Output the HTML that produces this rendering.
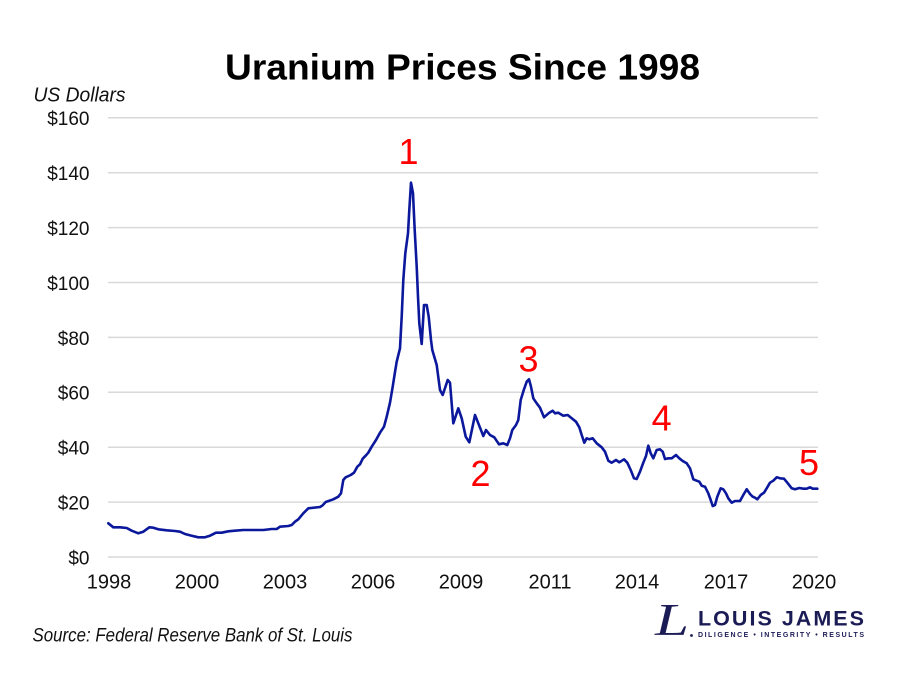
<!DOCTYPE html>
<html>
<head>
<meta charset="utf-8">
<style>
  html, body { margin:0; padding:0; background:#ffffff; }
  svg { display:block; }
  text { font-family: "Liberation Sans", "DejaVu Sans", sans-serif; }
</style>
</head>
<body>
<svg width="899" height="675" viewBox="0 0 899 675" xmlns="http://www.w3.org/2000/svg">
  <rect x="0" y="0" width="899" height="675" fill="#ffffff"/>

  <!-- Title -->
  <text x="225" y="79.5" font-size="36" font-weight="bold" fill="#000" textLength="475" lengthAdjust="spacingAndGlyphs">Uranium Prices Since 1998</text>

  <!-- Y axis title -->
  <text x="33.5" y="101.5" font-size="20" font-style="italic" fill="#111" textLength="92" lengthAdjust="spacingAndGlyphs">US Dollars</text>

  <!-- Gridlines -->
  <g stroke="#d9d9d9" stroke-width="1.5">
    <line x1="108" y1="117.8" x2="818" y2="117.8"/>
    <line x1="108" y1="172.7" x2="818" y2="172.7"/>
    <line x1="108" y1="227.6" x2="818" y2="227.6"/>
    <line x1="108" y1="282.5" x2="818" y2="282.5"/>
    <line x1="108" y1="337.4" x2="818" y2="337.4"/>
    <line x1="108" y1="392.3" x2="818" y2="392.3"/>
    <line x1="108" y1="447.2" x2="818" y2="447.2"/>
    <line x1="108" y1="502.1" x2="818" y2="502.1"/>
    <line x1="108" y1="557" x2="818" y2="557"/>
  </g>

  <!-- Y tick labels -->
  <g font-size="19" fill="#111" text-anchor="end">
    <text x="89.5" y="125">$160</text>
    <text x="89.5" y="180">$140</text>
    <text x="89.5" y="235">$120</text>
    <text x="89.5" y="290">$100</text>
    <text x="89.5" y="344.8">$80</text>
    <text x="89.5" y="399.7">$60</text>
    <text x="89.5" y="454.6">$40</text>
    <text x="89.5" y="509.5">$20</text>
    <text x="89.5" y="564.4">$0</text>
  </g>

  <!-- X tick labels -->
  <g font-size="20" fill="#111" text-anchor="middle">
    <text x="109" y="588.5">1998</text>
    <text x="197" y="588.5">2000</text>
    <text x="285" y="588.5">2003</text>
    <text x="373" y="588.5">2006</text>
    <text x="461" y="588.5">2009</text>
    <text x="550" y="588.5">2011</text>
    <text x="637" y="588.5">2014</text>
    <text x="726" y="588.5">2017</text>
    <text x="814" y="588.5">2020</text>
  </g>

  <!-- Price line -->
  <polyline fill="none" stroke="#0b189c" stroke-width="2.6" stroke-linejoin="round" stroke-linecap="round"
    points="108.3,523.3 113.3,527.3 120,527.3 126.7,528 131.7,530.7 138.3,533.3 143.3,531.7 149.3,527.3 153.3,527.7 158.3,529.3 166.7,530.3 175,531 180,531.7 185,534 191.7,535.7 198.3,537.3 205,537.3 210,535.7 216,532.7 221.7,532.7 228.3,531.3 235,530.7 243.3,530 251.7,530 263.3,530 271.7,529 276.7,529 280,526.7 288.3,526 291.7,525 295,521.7 298.3,519.3 303.3,513.3 308.3,508.3 320,507 322.7,505.3 325.7,502 333.3,499.3 338.3,496.7 341,493.3 343.3,480 345.7,477.3 350.7,475 354,472.7 357.3,466.7 360,464.3 362.7,458.7 366,455.3 368.3,452.7 371.7,446.7 376,440 380,432.7 384,426.7 386.7,416.7 390,402.7 392.7,386.7 395,372 396.7,361.7 400,348.3 401.7,316.7 403.3,280 405.3,253.3 408,233.3 409.3,210 411,182.7 413,193.3 414.7,230 416.7,266.7 418,296.7 419.3,323.3 421.7,344 424,305 426.7,305 428.7,316.7 431,340 432.3,350 436.7,365 440,390 442.7,395 447.7,380 450,382.7 453.3,423.3 458.3,408.3 461.7,418.3 465.7,436.7 469.3,442.3 475,415 478.3,423.3 483.3,436 486,430 490,435 494.3,437.3 499,444.3 503.3,443.3 507.3,445 510,438.3 512.3,430 516,425 518.3,420 520.7,400 524,389.3 526.7,381.7 529,379.3 531,386.7 533.3,398.3 536.7,403.3 540,407.7 544,417.3 549.3,412.7 552.7,410.7 555,413.3 558.3,412.7 563.3,415.7 567.7,415 571.7,418.3 576,421.7 579.3,427.3 581.7,435 584.3,442.7 586.7,438.3 589.3,439.3 592.7,438.3 596.7,443.3 601.7,447.3 605,451.7 608.3,460.7 611.7,462.7 616,460 619.3,462.3 624,459.3 627.3,462.7 630.7,470 634,478.3 636.7,479 640,471.7 643.3,462.7 646,456 648.3,445.7 650.7,453.3 653.3,458.3 656.7,450 660,449.3 662.7,451.7 665,459 668.3,458.3 671.7,458.3 676,455 679.3,458.3 682.7,461 686.7,463.3 690,468.3 693.3,479.3 696.7,480.7 699.3,481.7 701.7,485.7 705,486.7 708.3,493.3 710.7,500 712.7,506 715,505 717.3,496.7 720.7,488.3 723.3,489.3 726,493.3 728.3,498.3 731.7,502.7 735,501 740,501 743.3,495 746.7,489.3 750,494 752.7,496.7 755,497.7 757.3,499.3 760.7,495 764,492.7 766.7,488.3 770,482.7 773.3,480.7 776.7,477.3 780,478.3 784,478.7 787.3,482.7 791.7,488.3 795,489.3 799.3,488 803.3,488.7 806.7,488.7 810,487.3 812.7,488.7 817.3,488.7"/>

  <!-- Red annotations -->
  <g font-size="36" fill="#ff0000" text-anchor="middle">
    <text x="408.5" y="164">1</text>
    <text x="480.5" y="486">2</text>
    <text x="528.5" y="371.7">3</text>
    <text x="661.7" y="430.7">4</text>
    <text x="809" y="475">5</text>
  </g>

  <!-- Source -->
  <text x="32.5" y="641.5" font-size="19" font-style="italic" fill="#111" textLength="320" lengthAdjust="spacingAndGlyphs">Source: Federal Reserve Bank of St. Louis</text>

  <!-- Logo -->
  <text x="655" y="635" style="font-family:'Liberation Serif','DejaVu Serif',serif;font-style:italic;font-size:46px" fill="#1b1b55" textLength="34" lengthAdjust="spacingAndGlyphs">L</text>
  <circle cx="691.5" cy="635.5" r="1.4" fill="#1b1b55"/>
  <text x="698" y="625.7" font-size="21.5" font-weight="bold" fill="#1b1b55" textLength="166" lengthAdjust="spacing">LOUIS JAMES</text>
  <text x="698" y="637" font-size="7" font-weight="bold" fill="#1b1b55" textLength="166" lengthAdjust="spacing">DILIGENCE  •  INTEGRITY  •  RESULTS</text>
</svg>
</body>
</html>
